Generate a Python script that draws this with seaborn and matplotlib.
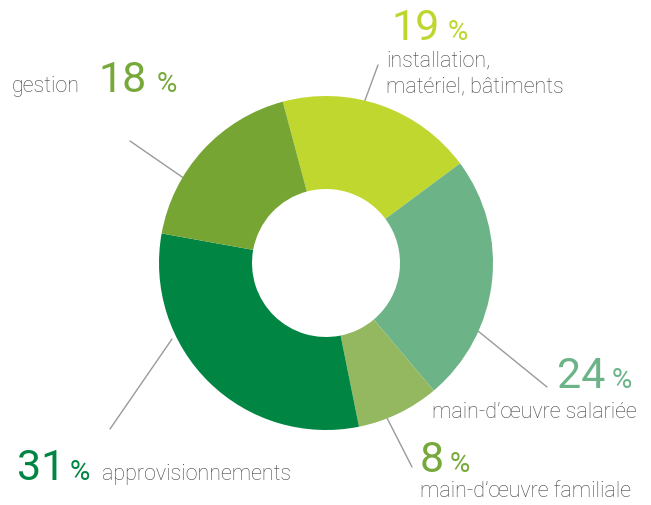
import matplotlib
matplotlib.use("Agg")
import matplotlib.pyplot as plt
import seaborn as sns

sns.set_style("white")
plt.rcParams['font.family'] = ['Roboto', 'DejaVu Sans']

# ---- data ----
categories = ["installation,\nmatériel, bâtiments", "main-d’œuvre salariée",
              "main-d’œuvre familiale", "approvisionnements", "gestion"]
values = [19, 24, 8, 31, 18]
wedge_colors = ["#c0d72f", "#6cb388", "#94b860", "#008542", "#76a533"]
label_colors = ["#bfd62f", "#6cb388", "#76a83a", "#008542", "#76a83a"]

W, H = 651, 506
fig = plt.figure(figsize=(W / 100, H / 100), dpi=100)
ax = fig.add_axes([0, 0, 1, 1])

cx, cy, R, r_in = 326, H - 264, 167, 74
ax.pie(values, colors=wedge_colors, startangle=105, counterclock=False,
       center=(cx, cy), radius=R, wedgeprops=dict(width=R - r_in, linewidth=0),
       frame=True)
ax.set_xlim(0, W)
ax.set_ylim(0, H)
ax.set_aspect('equal')
ax.axis('off')

def Y(y):
    return H - y

line_kw = dict(color="#9a9a9a", lw=1.0, zorder=0)
leaders = [((378, 66), (364, 104)),
           ((478, 332), (547, 388)),
           ((385, 415), (412, 468)),
           ((172, 340), (110, 430)),
           ((130, 142), (185, 180))]
for (x1, y1), (x2, y2) in leaders:
    ax.plot([x1, x2], [Y(y1), Y(y2)], **line_kw)

gray = "#434346"
big, pct, lab = 31, 20, 15.5

def t(x, y, s, size, color, wt='normal', ha='left'):
    ax.text(x, Y(y), s, fontsize=size, color=color, ha=ha, va='baseline',
            fontweight=wt)

# installation
t(391, 40, str(values[0]), big, label_colors[0])
t(448, 40, "%", pct, label_colors[0])
t(386, 66, "installation,", lab, gray, 'light')
t(386, 92, "matériel, bâtiments", lab, gray, 'light')
# salariée
t(557, 388, str(values[1]), big, label_colors[1])
t(612, 388, "%", pct, label_colors[1])
t(637, 418, categories[1], lab, gray, 'light', ha='right')
# familiale
t(420, 472, str(values[2]), big, label_colors[2])
t(450, 472, "%", pct, label_colors[2])
t(420, 497, categories[2], lab, gray, 'light')
# approvisionnements
t(17, 480, str(values[3]), big, label_colors[3])
t(70, 480, "%", pct, label_colors[3])
t(102, 480, categories[3], lab, gray, 'light')
# gestion
t(12, 92, categories[4], lab, gray, 'light')
t(98, 92, str(values[4]), big, label_colors[4])
t(157, 92, "%", pct, label_colors[4])

fig.savefig("out.png", dpi=100)
